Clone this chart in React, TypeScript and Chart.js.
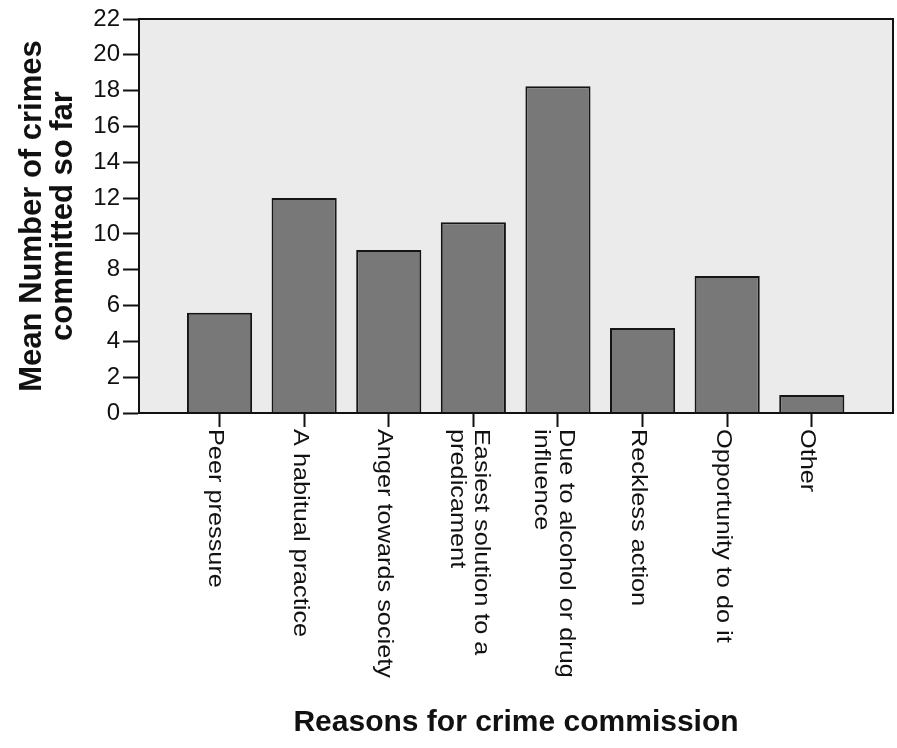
import React, { useEffect, useRef } from 'react';
import { Chart, registerables } from 'chart.js';

Chart.register(...registerables);

// ---- data ----
const categories: string[][] = [
  ['Peer pressure'],
  ['A habitual practice'],
  ['Anger towards society'],
  ['Easiest solution to a', 'predicament'],
  ['Due to alcohol or drug', 'influence'],
  ['Reckless action'],
  ['Opportunity to do it'],
  ['Other'],
];
const meanCrimes: number[] = [5.6, 12.0, 9.1, 10.65, 18.25, 4.75, 7.65, 1.0];
const yTickValues: number[] = [0, 2, 4, 6, 8, 10, 12, 14, 16, 18, 20, 22];
const yTitle: string[] = ['Mean Number of crimes', 'committed so far'];
const xTitle = 'Reasons for crime commission';

const FAMILY = '"Liberation Sans", Arial, Helvetica, sans-serif';

const plotFrame = {
  id: 'plotFrame',
  beforeDraw(chart: any) {
    const { ctx, chartArea: a } = chart;
    ctx.save();
    ctx.fillStyle = '#ebebeb';
    ctx.fillRect(a.left, a.top, a.right - a.left, a.bottom - a.top);
    ctx.restore();
  },
  afterDatasetsDraw(chart: any) {
    const { ctx, chartArea: a } = chart;
    ctx.save();
    ctx.strokeStyle = '#111';
    ctx.lineWidth = 2;
    ctx.strokeRect(a.left, a.top, a.right - a.left, a.bottom - a.top);
    ctx.restore();
  },
};

const rotatedLabels = {
  id: 'rotatedLabels',
  afterDraw(chart: any) {
    const { ctx } = chart;
    const xs = chart.scales.x;
    const lh = 24.5;
    ctx.save();
    ctx.font = `22px ${FAMILY}`;
    ctx.fillStyle = '#111';
    ctx.textAlign = 'left';
    ctx.textBaseline = 'alphabetic';
    categories.forEach((lines, i) => {
      const px = xs.getPixelForValue(i + 1);
      const n = lines.length;
      lines.forEach((line, k) => {
        const bx = px - 10.5 + ((n - 1) * lh) / 2 - k * lh;
        ctx.save();
        ctx.translate(bx, 429);
        ctx.rotate(Math.PI / 2);
        ctx.scale(1.15, 1);
        ctx.fillText(line, 0, 0);
        ctx.restore();
      });
    });
    ctx.restore();
  },
};

export default function App() {
  const canvasRef = useRef<HTMLCanvasElement | null>(null);

  useEffect(() => {
    const canvas = canvasRef.current;
    if (!canvas) return;
    const chart = new Chart(canvas, {
      type: 'bar',
      data: {
        datasets: [
          {
            data: meanCrimes.map((v, i) => ({ x: i + 1, y: v })) as any,
            backgroundColor: '#787878',
            borderColor: '#151515',
            borderWidth: 2,
            barPercentage: 0.77,
            categoryPercentage: 1,
          },
        ],
      },
      options: {
        responsive: false,
        animation: false,
        layout: { padding: { top: 19, right: 4, left: 0, bottom: 0 } },
        plugins: { legend: { display: false }, tooltip: { enabled: false } },
        scales: {
          x: {
            type: 'linear',
            min: 0.048,
            max: 8.96,
            offset: false,
            afterBuildTicks: (s: any) => {
              s.ticks = categories.map((_, i) => ({ value: i + 1 }));
            },
            afterFit: (s: any) => {
              s.height = 335;
            },
            ticks: { display: false },
            grid: {
              offset: false,
              drawOnChartArea: false,
              drawTicks: true,
              tickLength: 14,
              tickWidth: 2,
              tickColor: '#111',
              color: '#111',
            },
            border: { display: true, color: '#111', width: 2 },
            title: {
              display: true,
              text: xTitle,
              color: '#111',
              font: { family: FAMILY, size: 30, weight: 'bold', lineHeight: 1 },
              padding: { top: 0, bottom: 10 },
            },
          },
          y: {
            min: 0,
            max: 22,
            afterBuildTicks: (s: any) => {
              s.ticks = yTickValues.map((v) => ({ value: v }));
            },
            afterFit: (s: any) => {
              s.width = 139;
            },
            ticks: {
              color: '#111',
              padding: 3,
              font: { family: FAMILY, size: 24 },
            },
            grid: {
              drawOnChartArea: false,
              drawTicks: true,
              tickLength: 16,
              tickWidth: 2,
              tickColor: '#111',
              color: '#111',
            },
            border: { display: true, color: '#111', width: 2 },
            title: {
              display: true,
              text: yTitle,
              color: '#111',
              font: { family: FAMILY, size: 31, weight: 'bold', lineHeight: 1 },
              padding: { top: 17, bottom: 0 },
            },
          },
        },
      } as any,
      plugins: [plotFrame, rotatedLabels],
    });
    return () => chart.destroy();
  }, []);

  return (
    <div style={{ position: 'fixed', left: 0, top: 0, width: 897, height: 748, background: '#fff' }}>
      <canvas ref={canvasRef} width={897} height={748} style={{ display: 'block' }} />
    </div>
  );
}
